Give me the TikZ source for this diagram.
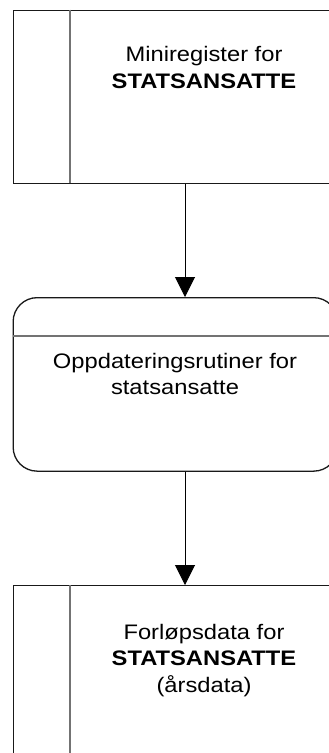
\documentclass[tikz,border=0pt]{standalone}
\usepackage{fontspec}
\setmainfont{Liberation Sans}[FakeStretch=1.13]
\usetikzlibrary{arrows.meta}
\begin{document}
\begin{tikzpicture}[x=1pt,y=-1pt,
  outline/.style={draw=black!90, line width=1.3pt},
  divider/.style={draw=black!55, line width=1.3pt},
  flow/.style={draw=black, line width=1pt, -{Triangle[width=20pt,length=20pt]}},
  label/.style={align=center, inner sep=0pt, font=\fontsize{21}{26.7}\selectfont}]
\useasboundingbox (0,0) rectangle (329,753);
\clip (0,0) rectangle (329,753);
\fill[white] (0,0) rectangle (329,753);
% top store
\node[outline, rectangle, minimum width=324.5pt, minimum height=173pt, inner sep=0pt, anchor=north west] (store1) at (12.5,9.5) {};
\draw[divider] (70,9.5) coordinate (d1a) -- (70,182.5) coordinate (d1b);
\node[label] (t1) at (204,67.7) {Miniregister for\\\textbf{STATSANSATTE}};
% process
\node[outline, rectangle, rounded corners=24pt, minimum width=324.5pt, minimum height=173.5pt, inner sep=0pt, anchor=north west] (proc) at (12.5,297) {};
\draw[divider] (proc.west |- 0,336) coordinate (d2a) -- (proc.east |- 0,336) coordinate (d2b);
\node[label] (t2) at (175,374) {Oppdateringsrutiner for\\statsansatte};
% bottom store
\node[outline, rectangle, minimum width=324.5pt, minimum height=180pt, inner sep=0pt, anchor=north west] (store2) at (12.5,585) {};
\draw[divider] (70,585) coordinate (d3a) -- (70,765) coordinate (d3b);
\node[label] (t3) at (204,660.5) {Forløpsdata for\\\textbf{STATSANSATTE}\\(årsdata)};
% connectors
\coordinate (ax) at (185,0);
\draw[flow] (store1.south -| ax) -- (proc.north -| ax);
\draw[flow] (proc.south -| ax) -- (store2.north -| ax);
\end{tikzpicture}
\end{document}
